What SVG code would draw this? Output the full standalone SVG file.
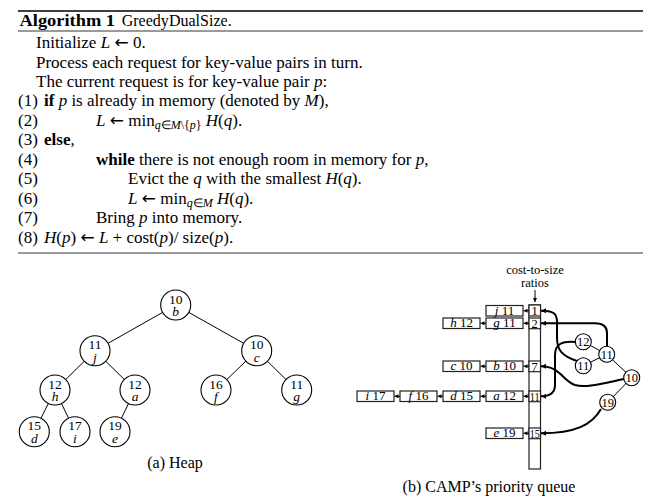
<svg xmlns="http://www.w3.org/2000/svg" width="666" height="504" viewBox="0 0 666 504">
<style>
text{font-family:"Liberation Serif","Times New Roman",serif;fill:#000}
.alg{font-size:17px}
.i{font-style:italic}
.b{font-weight:bold}
.ar{font-family:"DejaVu Sans",sans-serif;font-size:17px}
.sub{font-size:12px}
.hn{font-size:13.5px;text-anchor:middle}
.pn{font-size:12.5px;text-anchor:middle}
.bx{font-size:13px;text-anchor:middle}
.cap{font-size:16px;text-anchor:middle}
.node{fill:#fff;stroke:#000;stroke-width:1.1}
.edge{stroke:#000;stroke-width:1;fill:none}
.cell{fill:#fff;stroke:#222;stroke-width:1.2}
.thick{stroke:#000;stroke-width:2;fill:none}
.small{stroke:#000;stroke-width:1;fill:none}
</style>
<defs>
<marker id="ah" viewBox="0 0 6 6" refX="6" refY="3" markerWidth="5" markerHeight="5" markerUnits="userSpaceOnUse" orient="auto">
<path d="M0,0 L6,3 L0,6 z" fill="#000"/>
</marker>
<marker id="ahs" viewBox="0 0 6 6" refX="6" refY="3" markerWidth="4" markerHeight="4" markerUnits="userSpaceOnUse" orient="auto">
<path d="M0,0 L6,3 L0,6 z" fill="#000"/>
</marker>
</defs>

<!-- Algorithm box -->
<g id="algorithm">
<line x1="18" y1="11" x2="643" y2="11" stroke="#000" stroke-width="1.3"/>
<line x1="18" y1="31" x2="643" y2="31" stroke="#000" stroke-width="0.8"/>
<line x1="18" y1="253" x2="643" y2="253" stroke="#000" stroke-width="0.8"/>
<text class="alg b" x="19.5" y="26" textLength="95.5" lengthAdjust="spacingAndGlyphs">Algorithm 1</text>
<text class="alg" x="121.7" y="26" textLength="110" lengthAdjust="spacingAndGlyphs">GreedyDualSize.</text>
<text class="alg" x="36" y="48">Initialize <tspan class="i">L</tspan> <tspan class="ar">←</tspan> 0.</text>
<text class="alg" x="36" y="68">Process each request for key-value pairs in turn.</text>
<text class="alg" x="36" y="87">The current request is for key-value pair <tspan class="i">p</tspan>:</text>
<text class="alg" x="18" y="106">(1)</text>
<text class="alg" x="44" y="106"><tspan class="b">if</tspan> <tspan class="i">p</tspan> is already in memory (denoted by <tspan class="i">M</tspan>),</text>
<text class="alg" x="18" y="126">(2)</text>
<text class="alg" x="96" y="126"><tspan class="i">L</tspan> <tspan class="ar">←</tspan> min<tspan class="sub" dy="3"><tspan class="i">q</tspan>∈<tspan class="i">M</tspan>\{<tspan class="i">p</tspan>}</tspan><tspan dy="-3"> <tspan class="i">H</tspan>(<tspan class="i">q</tspan>).</tspan></text>
<text class="alg" x="18" y="145">(3)</text>
<text class="alg" x="44" y="145"><tspan class="b">else</tspan>,</text>
<text class="alg" x="18" y="165">(4)</text>
<text class="alg" x="96" y="165"><tspan class="b">while</tspan> there is not enough room in memory for <tspan class="i">p</tspan>,</text>
<text class="alg" x="18" y="184">(5)</text>
<text class="alg" x="128" y="184">Evict the <tspan class="i">q</tspan> with the smallest <tspan class="i">H</tspan>(<tspan class="i">q</tspan>).</text>
<text class="alg" x="18" y="204">(6)</text>
<text class="alg" x="128" y="204"><tspan class="i">L</tspan> <tspan class="ar">←</tspan> min<tspan class="sub" dy="3"><tspan class="i">q</tspan>∈<tspan class="i">M</tspan></tspan><tspan dy="-3"> <tspan class="i">H</tspan>(<tspan class="i">q</tspan>).</tspan></text>
<text class="alg" x="18" y="223">(7)</text>
<text class="alg" x="96" y="223">Bring <tspan class="i">p</tspan> into memory.</text>
<text class="alg" x="18" y="243">(8)</text>
<text class="alg" x="44" y="243"><tspan class="i">H</tspan>(<tspan class="i">p</tspan>) <tspan class="ar">←</tspan> <tspan class="i">L</tspan> + cost(<tspan class="i">p</tspan>)/ size(<tspan class="i">p</tspan>).</text>
</g>

<!-- Heap edges -->
<g id="heap-edges">
<line class="edge" x1="175.7" y1="305" x2="95" y2="350.7"/>
<line class="edge" x1="175.7" y1="305" x2="256.7" y2="350.7"/>
<line class="edge" x1="95" y1="350.7" x2="55" y2="390"/>
<line class="edge" x1="95" y1="350.7" x2="135" y2="390"/>
<line class="edge" x1="256.7" y1="350.7" x2="216" y2="390"/>
<line class="edge" x1="256.7" y1="350.7" x2="296.7" y2="390"/>
<line class="edge" x1="55" y1="390" x2="34.3" y2="431.7"/>
<line class="edge" x1="55" y1="390" x2="75" y2="431.7"/>
<line class="edge" x1="135" y1="390" x2="115" y2="431.7"/>
</g>
<g id="heap-b"><circle class="node" cx="175.7" cy="305" r="15"/><text class="hn" x="175.7" y="303.5">10</text><text class="hn i" x="175.7" y="316">b</text></g>
<g id="heap-j"><circle class="node" cx="95" cy="350.7" r="15"/><text class="hn" x="95" y="349.2">11</text><text class="hn i" x="95" y="361.7">j</text></g>
<g id="heap-c"><circle class="node" cx="256.7" cy="350.7" r="15"/><text class="hn" x="256.7" y="349.2">10</text><text class="hn i" x="256.7" y="361.7">c</text></g>
<g id="heap-h"><circle class="node" cx="55" cy="390" r="15"/><text class="hn" x="55" y="388.5">12</text><text class="hn i" x="55" y="401">h</text></g>
<g id="heap-a"><circle class="node" cx="135" cy="390" r="15"/><text class="hn" x="135" y="388.5">12</text><text class="hn i" x="135" y="401">a</text></g>
<g id="heap-f"><circle class="node" cx="216" cy="390" r="15"/><text class="hn" x="216" y="388.5">16</text><text class="hn i" x="216" y="401">f</text></g>
<g id="heap-g"><circle class="node" cx="296.7" cy="390" r="15"/><text class="hn" x="296.7" y="388.5">11</text><text class="hn i" x="296.7" y="401">g</text></g>
<g id="heap-d"><circle class="node" cx="34.3" cy="431.7" r="15"/><text class="hn" x="34.3" y="430.2">15</text><text class="hn i" x="34.3" y="442.7">d</text></g>
<g id="heap-i"><circle class="node" cx="75" cy="431.7" r="15"/><text class="hn" x="75" y="430.2">17</text><text class="hn i" x="75" y="442.7">i</text></g>
<g id="heap-e"><circle class="node" cx="115" cy="431.7" r="15"/><text class="hn" x="115" y="430.2">19</text><text class="hn i" x="115" y="442.7">e</text></g>
<text class="cap" x="175" y="468">(a) Heap</text>

<!-- Priority queue -->
<g id="pq-label">
<text class="pn" x="535" y="274">cost-to-size</text>
<text class="pn" x="535" y="287">ratios</text>
<line x1="535" y1="290" x2="535" y2="302" stroke="#000" stroke-width="1" marker-end="url(#ahs)"/>
</g>
<g id="pq-column">
<rect class="cell" x="529" y="305" width="11.5" height="164"/>
<rect class="cell" x="529" y="305" width="11.5" height="11"/><text class="pn" x="534.7" y="314.8">1</text>
<rect class="cell" x="529" y="318" width="11.5" height="10.7"/><text class="pn" x="534.7" y="327.6">2</text>
<rect class="cell" x="529" y="361" width="11.5" height="10.7"/><text class="pn" x="534.7" y="370.6">7</text>
<rect class="cell" x="529" y="391" width="11.5" height="10.7"/><text class="pn" x="534.7" y="400.6" textLength="10" lengthAdjust="spacingAndGlyphs">11</text>
<rect class="cell" x="529" y="428" width="11.5" height="10.7"/><text class="pn" x="534.7" y="437.6" textLength="10" lengthAdjust="spacingAndGlyphs">15</text>
</g>
<g id="pq-j"><rect class="cell" x="486" y="305.5" width="37" height="10.5"/><text class="bx" x="504.5" y="314.8"><tspan class="i">j</tspan> 11</text></g>
<g id="pq-g"><rect class="cell" x="486" y="318" width="37" height="10.5"/><text class="bx" x="504.5" y="327.3"><tspan class="i">g</tspan> 11</text></g>
<g id="pq-h"><rect class="cell" x="443" y="318" width="37" height="10.5"/><text class="bx" x="461.5" y="327.3"><tspan class="i">h</tspan> 12</text></g>
<g id="pq-b"><rect class="cell" x="486" y="361" width="37" height="10.5"/><text class="bx" x="504.5" y="370.3"><tspan class="i">b</tspan> 10</text></g>
<g id="pq-c"><rect class="cell" x="443" y="361" width="37" height="10.5"/><text class="bx" x="461.5" y="370.3"><tspan class="i">c</tspan> 10</text></g>
<g id="pq-a"><rect class="cell" x="486" y="391" width="37" height="10.5"/><text class="bx" x="504.5" y="400.3"><tspan class="i">a</tspan> 12</text></g>
<g id="pq-d"><rect class="cell" x="443" y="391" width="37" height="10.5"/><text class="bx" x="461.5" y="400.3"><tspan class="i">d</tspan> 15</text></g>
<g id="pq-f"><rect class="cell" x="400" y="391" width="37" height="10.5"/><text class="bx" x="418.5" y="400.3"><tspan class="i">f</tspan> 16</text></g>
<g id="pq-i"><rect class="cell" x="357" y="391" width="37" height="10.5"/><text class="bx" x="375.5" y="400.3"><tspan class="i">i</tspan> 17</text></g>
<g id="pq-e"><rect class="cell" x="486" y="428" width="37" height="10.5"/><text class="bx" x="504.5" y="437.3"><tspan class="i">e</tspan> 19</text></g>

<g id="pq-connectors">
<line class="small" x1="529" y1="310.7" x2="523.5" y2="310.7" marker-end="url(#ahs)"/>
<line class="small" x1="529" y1="323.3" x2="523.5" y2="323.3" marker-end="url(#ahs)"/>
<line class="small" x1="486" y1="323.3" x2="480.5" y2="323.3" marker-end="url(#ahs)"/>
<line class="small" x1="529" y1="366.3" x2="523.5" y2="366.3" marker-end="url(#ahs)"/>
<line class="small" x1="486" y1="366.3" x2="480.5" y2="366.3" marker-end="url(#ahs)"/>
<line class="small" x1="529" y1="396.3" x2="523.5" y2="396.3" marker-end="url(#ahs)"/>
<line class="small" x1="486" y1="396.3" x2="480.5" y2="396.3" marker-end="url(#ahs)"/>
<line class="small" x1="443" y1="396.3" x2="437.5" y2="396.3" marker-end="url(#ahs)"/>
<line class="small" x1="400" y1="396.3" x2="394.5" y2="396.3" marker-end="url(#ahs)"/>
<line class="small" x1="529" y1="433.3" x2="523.5" y2="433.3" marker-end="url(#ahs)"/>
<line class="small" x1="583.3" y1="341.7" x2="606.7" y2="354.3"/>
<line class="small" x1="583.3" y1="365.7" x2="606.7" y2="354.3"/>
<line class="small" x1="606.7" y1="354.3" x2="631.7" y2="377.7"/>
<line class="small" x1="631.7" y1="377.7" x2="607.7" y2="402.3"/>
<path class="thick" d="M577,361 C562,356 557,350 557,338 L557,322 C557,313 553,310.7 541,310.7" marker-end="url(#ah)"/>
<path class="thick" d="M607,346 L607,333 C607,326 603,323.3 595,323.3 L541,323.3" marker-end="url(#ah)"/>
<path class="thick" d="M575.5,342 C562,341 555,344 555,355 L555,385 C555,393 550,396.3 541,396.3" marker-end="url(#ah)"/>
<path class="thick" d="M624,379 C600,384 585,388 575,385 C563,381 560,366.3 541,366.3" marker-end="url(#ah)"/>
<path class="thick" d="M601,409 C592,425 575,433.3 541,433.3" marker-end="url(#ah)"/>
</g>
<g id="pq-n12"><circle class="node" cx="583.3" cy="341.7" r="8"/><text class="pn" x="583.3" y="346">12</text></g>
<g id="pq-n11a"><circle class="node" cx="606.7" cy="354.3" r="8"/><text class="pn" x="606.7" y="358.6">11</text></g>
<g id="pq-n11b"><circle class="node" cx="583.3" cy="365.7" r="8"/><text class="pn" x="583.3" y="370">11</text></g>
<g id="pq-n10"><circle class="node" cx="631.7" cy="377.7" r="8"/><text class="pn" x="631.7" y="382">10</text></g>
<g id="pq-n19"><circle class="node" cx="607.7" cy="402.3" r="8"/><text class="pn" x="607.7" y="406.6">19</text></g>
<text class="cap" x="489" y="492">(b) CAMP’s priority queue</text>
</svg>
